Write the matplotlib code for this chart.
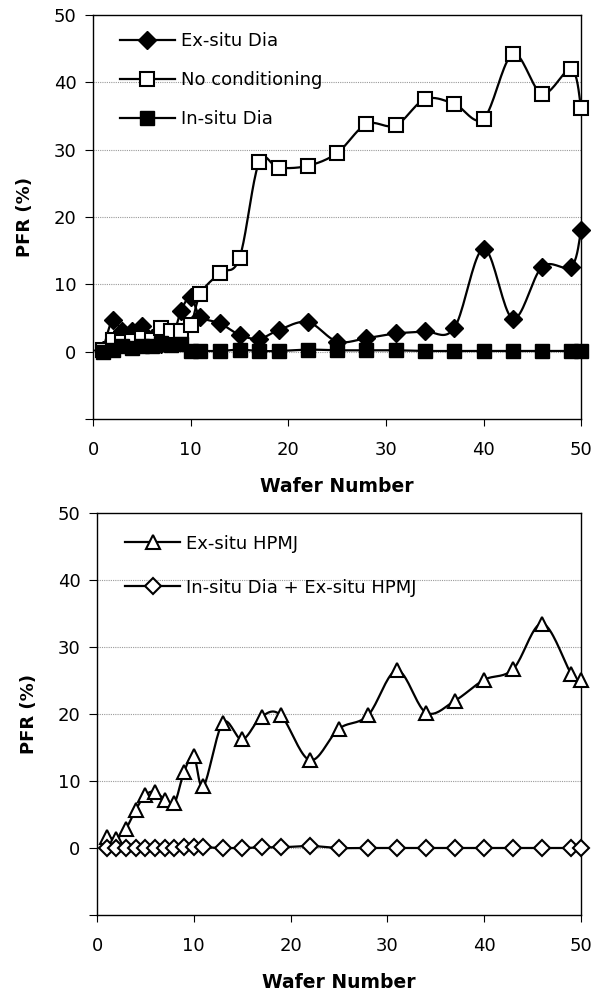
import numpy as np
import matplotlib.pyplot as plt

plt.rcParams["font.family"] = ["DejaVu Sans"]

# wafer numbers where PFR was measured
wafer = [1, 2, 3, 4, 5, 6, 7, 8, 9, 10, 11, 13, 15, 17, 19, 22, 25, 28, 31, 34,
         37, 40, 43, 46, 49, 50]

# top panel
exsitu_dia = [0.2, 4.7, 3.0, 3.0, 3.8, 2.0, 1.2, 1.5, 6.0, 8.1, 5.2, 4.2, 2.5,
              1.9, 3.2, 4.4, 1.5, 2.0, 2.7, 3.0, 3.5, 15.3, 4.9, 12.6, 12.6, 18.1]
no_cond = [0.3, 1.7, 1.5, 1.6, 2.0, 1.8, 3.5, 3.0, 3.0, 3.9, 8.6, 11.7, 13.9,
           28.1, 27.3, 27.6, 29.5, 33.8, 33.6, 37.5, 36.8, 34.6, 44.2, 38.3, 42.0, 36.2]
insitu_dia = [0.0, 0.3, 0.8, 0.6, 0.9, 0.8, 1.3, 1.0, 1.2, 0.1, 0.1, 0.1, 0.3,
              0.1, 0.1, 0.3, 0.2, 0.2, 0.2, 0.1, 0.1, 0.1, 0.1, 0.1, 0.1, 0.1]

# bottom panel
exsitu_hpmj = [1.7, 1.4, 2.9, 5.7, 7.9, 8.4, 7.2, 6.7, 11.4, 13.7, 9.2, 18.7, 16.2,
               19.6, 19.8, 13.1, 17.8, 19.8, 26.5, 20.2, 22.0, 25.1, 26.7, 33.5, 26.0, 25.1]
insitu_hpmj = [0.0, 0.0, 0.0, 0.0, 0.0, 0.0, 0.0, 0.0, 0.1, 0.1, 0.1, 0.0, 0.0,
               0.1, 0.1, 0.3, 0.0, 0.0, 0.0, 0.0, 0.0, 0.0, 0.0, 0.0, 0.0, 0.0]

yticks = [-10, 0, 10, 20, 30, 40, 50]
ytick_labels = ["", "0", "10", "20", "30", "40", "50"]
xticks = [0, 10, 20, 30, 40, 50]


def smooth(x, y, n=20):
    """Catmull-Rom curve through the points (like Excel's smoothed line)."""
    p = np.column_stack([x, y]).astype(float)
    p = np.vstack([p[0], p, p[-1]])
    out = []
    t = np.linspace(0, 1, n, endpoint=False)[:, None]
    for i in range(1, len(p) - 2):
        p0, p1, p2, p3 = p[i - 1], p[i], p[i + 1], p[i + 2]
        seg = 0.5 * ((2 * p1) + (-p0 + p2) * t
                     + (2 * p0 - 5 * p1 + 4 * p2 - p3) * t ** 2
                     + (-p0 + 3 * p1 - 3 * p2 + p3) * t ** 3)
        out.append(seg)
    out.append(p[-2][None, :])
    out = np.vstack(out)
    return out[:, 0], out[:, 1]


def series(ax, x, y, label, **mk):
    sx, sy = smooth(x, y)
    ax.plot(sx, sy, color="black", lw=1.6, zorder=3)
    ax.plot(x, y, ls="none", zorder=4, clip_on=False, **mk)
    # legend proxy: line + marker
    ax.plot([], [], color="black", lw=1.6, label=label, **mk)


def style(ax):
    ax.set_xlim(0, 50)
    ax.set_ylim(-10, 50)
    ax.set_xticks(xticks)
    ax.set_yticks(yticks)
    ax.set_yticklabels(ytick_labels)
    ax.tick_params(axis="both", labelsize=13, direction="out", color="black")
    ax.tick_params(axis="x", length=5, pad=11)
    ax.tick_params(axis="y", length=6, pad=6)
    for g in [0, 10, 20, 30, 40]:
        ax.axhline(g, color="#9a9a9a", lw=0.8, ls=(0, (1, 1)), zorder=1)
    for s in ax.spines.values():
        s.set_color("black")
        s.set_linewidth(1.0)
    ax.set_xlabel("Wafer Number", fontsize=13.5, fontweight="bold", labelpad=13)
    ax.set_ylabel("PFR (%)", fontsize=13, fontweight="bold", labelpad=14)


fig = plt.figure(figsize=(5.93, 9.99), dpi=100)
ax1 = fig.add_axes([0.157, 0.5806, 0.823, 0.4044])
ax2 = fig.add_axes([0.1636, 0.0841, 0.816, 0.4024])

series(ax1, wafer, exsitu_dia, "Ex-situ Dia", marker="D", ms=9,
       mfc="black", mec="black")
series(ax1, wafer, no_cond, "No conditioning", marker="s", ms=9.5,
       mfc="white", mec="black", mew=1.5)
series(ax1, wafer, insitu_dia, "In-situ Dia", marker="s", ms=9.5,
       mfc="black", mec="black")
style(ax1)
ax1.legend(loc="upper left", bbox_to_anchor=(0.055, 0.958), frameon=False,
           fontsize=13, handlelength=3.05, handletextpad=0.33,
           labelspacing=1.17, borderaxespad=0, borderpad=0)

series(ax2, wafer, exsitu_hpmj, "Ex-situ HPMJ", marker="^", ms=10,
       mfc="white", mec="black", mew=1.5)
series(ax2, wafer, insitu_hpmj, "In-situ Dia + Ex-situ HPMJ", marker="D", ms=8.5,
       mfc="white", mec="black", mew=1.5)
style(ax2)
ax2.legend(loc="upper left", bbox_to_anchor=(0.058, 0.946), frameon=False,
           fontsize=13, handlelength=3.05, handletextpad=0.33,
           labelspacing=1.44, borderaxespad=0, borderpad=0)

fig.savefig("out.png", dpi=100)
